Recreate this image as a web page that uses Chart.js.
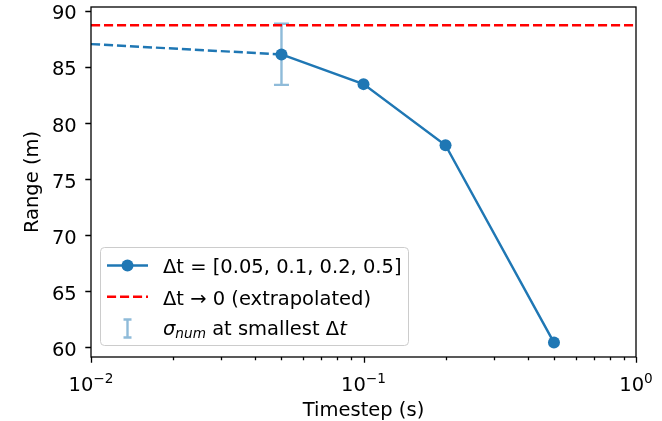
<!DOCTYPE html>
<html><head><meta charset="utf-8">
<script src="https://cdn.jsdelivr.net/npm/chart.js@4/dist/chart.umd.min.js"></script>
<style>html,body{margin:0;padding:0;background:#fff}canvas{display:block}</style>
</head><body>
<canvas id="c" width="662" height="421"></canvas>
<script>
// ---- data ----
const timestepValues = [0.05, 0.1, 0.2, 0.5];
const rangeValues = [86.1, 83.45, 78.0, 60.4];
const extrapolationX = [0.01, 0.05];
const extrapolationY = [87.02, 86.1];
const limitX = [0.01, 1];
const limitY = [88.7, 88.7];
const errorX = [0.05];
const errorLow = [83.38];
const errorHigh = [88.84];
const xMajorTicks = [0.01, 0.1, 1];
const xTickBase = ['10', '10', '10'];
const xTickExponents = ['\u22122', '\u22121', '0'];
const xMinorTicks = [0.02, 0.03, 0.04, 0.05, 0.06, 0.07, 0.08, 0.09, 0.2, 0.3, 0.4, 0.5, 0.6, 0.7, 0.8, 0.9];
const yTickValues = [60, 65, 70, 75, 80, 85, 90];
const yTickLabels = ['60', '65', '70', '75', '80', '85', '90'];
const legendLabels = ['\u0394t = [0.05, 0.1, 0.2, 0.5]', '\u0394t \u2192 0 (extrapolated)', 'at smallest '];
const xTitle = 'Timestep (s)';
const yTitle = 'Range (m)';

const FONT = 'DejaVu Sans';
const FS = 19.5;
const BLUE = '#1f77b4';

const pts = (xs, ys) => xs.map((x, i) => ({x, y: ys[i]}));

const framePlugin = {
  id: 'frame',
  beforeDatasetsDraw(chart) {
    const ctx = chart.ctx, xs = chart.scales.x, ys = chart.scales.y;
    ctx.save();
    ctx.strokeStyle = 'rgba(31,119,180,0.5)';
    ctx.lineWidth = 2.4;
    errorX.forEach((ex, i) => {
      const px = xs.getPixelForValue(ex);
      const y1 = ys.getPixelForValue(errorLow[i]);
      const y2 = ys.getPixelForValue(errorHigh[i]);
      ctx.beginPath();
      ctx.moveTo(px, y1); ctx.lineTo(px, y2);
      ctx.moveTo(px - 7.5, y1); ctx.lineTo(px + 7.5, y1);
      ctx.moveTo(px - 7.5, y2); ctx.lineTo(px + 7.5, y2);
      ctx.stroke();
    });
    ctx.restore();
  },
  afterDraw(chart) {
    const ctx = chart.ctx, a = chart.chartArea, xs = chart.scales.x, ys = chart.scales.y;
    ctx.save();
    // frame
    ctx.strokeStyle = '#000';
    ctx.lineWidth = 1.3;
    ctx.strokeRect(a.left, a.top, a.right - a.left, a.bottom - a.top);
    // ticks
    ctx.beginPath();
    xMajorTicks.forEach(v => {
      const px = Math.round(xs.getPixelForValue(v)) + 0.5;
      ctx.moveTo(px, a.bottom); ctx.lineTo(px, a.bottom + 5.7);
    });
    xMinorTicks.forEach(v => {
      const px = Math.round(xs.getPixelForValue(v)) + 0.5;
      ctx.moveTo(px, a.bottom); ctx.lineTo(px, a.bottom + 3.3);
    });
    yTickValues.forEach(v => {
      const py = Math.round(ys.getPixelForValue(v)) + 0.5;
      ctx.moveTo(a.left, py); ctx.lineTo(a.left - 5.7, py);
    });
    ctx.stroke();
    ctx.fillStyle = '#000';
    // y tick labels
    ctx.font = FS + 'px "' + FONT + '"';
    ctx.textAlign = 'right';
    ctx.textBaseline = 'alphabetic';
    yTickValues.forEach((v, i) => {
      ctx.fillText(yTickLabels[i], a.left - 14.3, ys.getPixelForValue(v) + 8.7);
    });
    // x tick labels with superscripts
    ctx.textAlign = 'left';
    xMajorTicks.forEach((v, i) => {
      const px = xs.getPixelForValue(v);
      ctx.font = FS + 'px "' + FONT + '"';
      const wb = ctx.measureText(xTickBase[i]).width;
      ctx.font = (FS * 0.7) + 'px "' + FONT + '"';
      const we = ctx.measureText(xTickExponents[i]).width;
      const x0 = px - (wb + we) / 2;
      ctx.font = FS + 'px "' + FONT + '"';
      ctx.fillText(xTickBase[i], x0, 391);
      ctx.font = (FS * 0.7) + 'px "' + FONT + '"';
      ctx.fillText(xTickExponents[i], x0 + wb, 383);
    });
    // legend
    const lx = 100.5, ly = 247.5, lw = 308, lh = 98;
    ctx.beginPath();
    ctx.roundRect(lx, ly, lw, lh, 4);
    ctx.fillStyle = 'rgba(255,255,255,0.8)';
    ctx.fill();
    ctx.strokeStyle = '#cccccc';
    ctx.lineWidth = 1;
    ctx.stroke();
    // row 1
    ctx.strokeStyle = BLUE; ctx.lineWidth = 2.46;
    ctx.beginPath(); ctx.moveTo(107, 265.5); ctx.lineTo(148, 265.5); ctx.stroke();
    ctx.fillStyle = BLUE;
    ctx.beginPath(); ctx.arc(127.5, 265.5, 6, 0, Math.PI * 2); ctx.fill();
    // row 2
    ctx.strokeStyle = 'red';
    ctx.setLineDash([9.1, 3.9]);
    ctx.beginPath(); ctx.moveTo(107, 296.7); ctx.lineTo(148, 296.7); ctx.stroke();
    ctx.setLineDash([]);
    // row 3
    ctx.strokeStyle = 'rgba(31,119,180,0.5)'; ctx.lineWidth = 2.4;
    ctx.beginPath();
    ctx.moveTo(127.5, 319.5); ctx.lineTo(127.5, 337.5);
    ctx.moveTo(123.5, 319.5); ctx.lineTo(131.5, 319.5);
    ctx.moveTo(123.5, 337.5); ctx.lineTo(131.5, 337.5);
    ctx.stroke();
    // texts
    ctx.fillStyle = '#000';
    ctx.font = FS + 'px "' + FONT + '"';
    ctx.fillText(legendLabels[0], 163, 273.3);
    ctx.fillText(legendLabels[1], 163, 304.5);
    let tx = 163;
    ctx.font = 'italic ' + FS + 'px "' + FONT + '"';
    ctx.fillText('\u03c3', tx, 335); tx += ctx.measureText('\u03c3').width;
    ctx.font = 'italic ' + (FS * 0.7) + 'px "' + FONT + '"';
    ctx.fillText('num', tx, 338); tx += ctx.measureText('num').width;
    ctx.font = FS + 'px "' + FONT + '"';
    ctx.fillText(' ' + legendLabels[2], tx, 335); tx += ctx.measureText(' ' + legendLabels[2]).width;
    ctx.fillText('\u0394', tx, 335); tx += ctx.measureText('\u0394').width;
    ctx.font = 'italic ' + FS + 'px "' + FONT + '"';
    ctx.fillText('t', tx, 335);
    ctx.restore();
  }
};

new Chart(document.getElementById('c'), {
  type: 'line',
  data: {
    datasets: [
      { data: pts(timestepValues, rangeValues), borderColor: BLUE, backgroundColor: BLUE,
        borderWidth: 2.46, pointRadius: 6, pointBorderWidth: 0, pointBackgroundColor: BLUE, tension: 0 },
      { data: pts(extrapolationX, extrapolationY), borderColor: BLUE, borderWidth: 2.46,
        borderDash: [9.1, 3.9], pointRadius: 0, tension: 0 },
      { data: pts(limitX, limitY), borderColor: 'red', borderWidth: 2.46,
        borderDash: [9.1, 3.9], pointRadius: 0, tension: 0 }
    ]
  },
  options: {
    responsive: false,
    animation: false,
    events: [],
    layout: { padding: { top: 7, right: 26, left: 0, bottom: 0 } },
    plugins: { legend: { display: false }, tooltip: { enabled: false } },
    scales: {
      x: {
        type: 'logarithmic', min: 0.01, max: 1,
        afterBuildTicks(s) { s.ticks = xMajorTicks.map(v => ({value: v})); },
        afterFit(s) { s.height = 64; },
        grid: { display: false },
        border: { display: false },
        ticks: { display: false },
        title: { display: true, text: xTitle, color: '#000', font: { family: FONT, size: FS, lineHeight: 1.0 }, padding: { top: 0, bottom: 0 } }
      },
      y: {
        type: 'linear', min: 59.11, max: 90.33,
        afterBuildTicks(s) { s.ticks = yTickValues.map(v => ({value: v})); },
        afterFit(s) { s.width = 91; },
        grid: { display: false },
        border: { display: false },
        ticks: { display: false },
        title: { display: true, text: yTitle, color: '#000', font: { family: FONT, size: FS, lineHeight: 1.2 }, padding: { top: 21, bottom: 0 } }
      }
    }
  },
  plugins: [framePlugin]
});
</script>
</body></html>
